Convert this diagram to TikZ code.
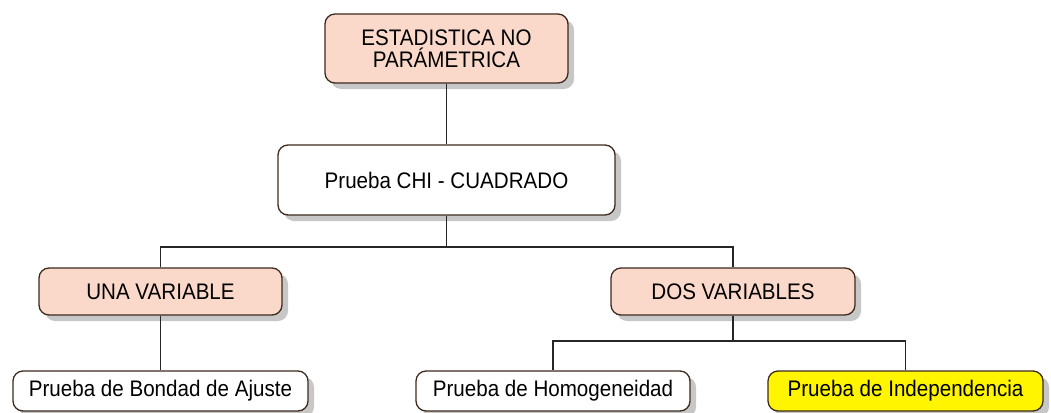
\documentclass[tikz,border=0pt]{standalone}
\usepackage{fontspec}
\setmainfont{Liberation Sans}[FakeStretch=0.915]
\usetikzlibrary{shadows}
\definecolor{boxpink}{RGB}{250,217,203}
\definecolor{boxline}{RGB}{60,42,30}
\definecolor{boxyellow}{RGB}{255,245,0}
\definecolor{shade}{RGB}{175,175,175}
\tikzset{
  box/.style={draw=boxline, line width=1.3pt, rounded corners=10pt, align=center,
    inner sep=0pt, font=\fontsize{22.5}{22}\selectfont,
    drop shadow={shadow xshift=6pt, shadow yshift=-6pt, fill=shade, opacity=0.7}},
  pinkbox/.style={box, fill=boxpink},
  whitebox/.style={box, fill=white},
  yellowbox/.style={box, fill=boxyellow},
  conn/.style={draw=black!85, line width=1.3pt}
}
\begin{document}
\begin{tikzpicture}[x=1pt, y=-1pt]
\useasboundingbox (0,0) rectangle (1051,412);
\node[pinkbox, minimum width=243pt, minimum height=69pt] (top) at (446.5,48.5) {ESTADISTICA NO\\PARÁMETRICA};
\node[whitebox, minimum width=337pt, minimum height=70pt] (chi) at (446.5,180) {Prueba CHI - CUADRADO};
\node[pinkbox, minimum width=243pt, minimum height=47pt] (una) at (160.5,291.5) {UNA VARIABLE};
\node[pinkbox, minimum width=244pt, minimum height=47pt] (dos) at (733,291.5) {DOS VARIABLES};
\node[whitebox, minimum width=295pt, minimum height=40pt] (bondad) at (160.5,391) {Prueba de Bondad de Ajuste};
\node[whitebox, minimum width=274pt, minimum height=40pt] (homog) at (553,391) {Prueba de Homogeneidad};
\node[yellowbox, minimum width=275pt, minimum height=40pt] (indep) at (905.5,391) {Prueba de Independencia};
\coordinate (j1) at (446.5,247);
\coordinate (j2) at (733,341);
\draw[conn] (top.south) -- (chi.north);
\draw[conn] (chi.south) -- (j1) -| (una.north);
\draw[conn] (j1) -| (dos.north);
\draw[conn] (una.south) -- (bondad.north);
\draw[conn] (dos.south) -- (j2) -| (homog.north);
\draw[conn] (j2) -| (indep.north);
\end{tikzpicture}
\end{document}
